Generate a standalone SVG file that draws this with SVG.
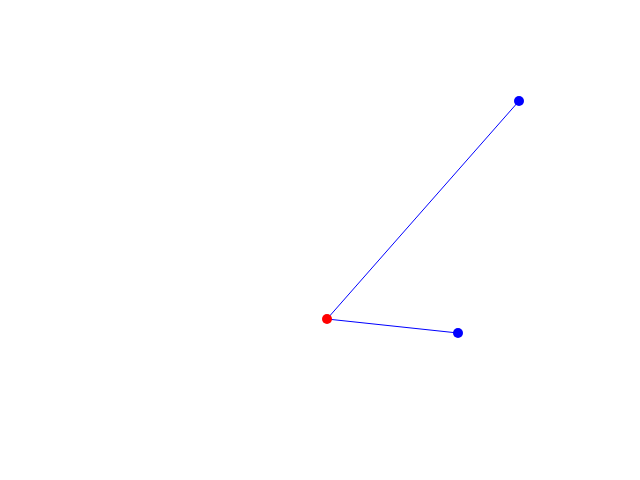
<svg xmlns="http://www.w3.org/2000/svg" width="640" height="480" viewBox="0 0 640 480">
<style>
.edge{stroke:#0000ff;stroke-width:1;fill:none}
.blue{fill:#0000ff}
.red{fill:#ff0000}
</style>
<rect width="640" height="480" fill="#ffffff"/>
<g id="connectors">
<line class="edge" x1="327" y1="319" x2="519" y2="101"/>
<line class="edge" x1="327" y1="319" x2="458" y2="333"/>
</g>
<g id="node-a"><circle class="red" cx="327" cy="319" r="5"/></g>
<g id="node-b"><circle class="blue" cx="519" cy="101" r="5"/></g>
<g id="node-c"><circle class="blue" cx="458" cy="333" r="5"/></g>
</svg>
